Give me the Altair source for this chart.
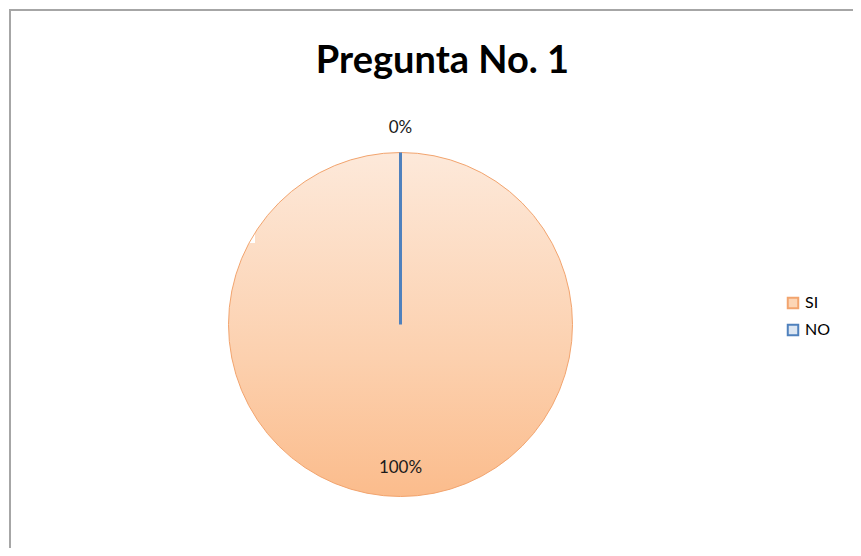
import altair as alt
import pandas as pd

categories = ["SI", "NO"]
values = [1.0, 0.0]
fill_colors = ["#fcd5b5", "#dce6f2"]
stroke_colors = ["#f2a46e", "#4f81bd"]
title_text = "Pregunta No. 1"

df = pd.DataFrame({"cat": categories, "value": values, "order": [0, 1]})

W, H = 845, 540
CX, CY, R = 392.5, 316.5, 172

stroke_scale = alt.Scale(domain=categories, range=stroke_colors)
fill_scale = alt.Scale(domain=categories, range=fill_colors)

base = alt.Chart(df).encode(
    theta=alt.Theta("value:Q", stack=True),
    order=alt.Order("order:Q"),
)

grad = alt.Gradient(
    gradient="linear",
    x1=0, y1=0, x2=0, y2=1,
    stops=[alt.GradientStop(color="#fde9da", offset=0),
           alt.GradientStop(color="#fcd0ae", offset=0.6),
           alt.GradientStop(color="#fbbc8c", offset=1)],
)

disc = base.mark_arc(radius=R, x=CX, y=CY, fill=grad, stroke="#f2a46e",
                     strokeWidth=1).transform_filter("datum.cat == 'SI'")

line = base.mark_arc(radius=R, x=CX, y=CY, fillOpacity=0, strokeWidth=3).encode(
    stroke=alt.Stroke("cat:N", scale=stroke_scale, title=None),
).transform_filter("datum.cat == 'NO'")

legend_layer = alt.Chart(df).mark_square(size=0, opacity=1).encode(
    x=alt.value(-100),
    y=alt.value(-100),
    fill=alt.Fill("cat:N", scale=fill_scale, sort=categories, title=None,
                  legend=alt.Legend(orient="none", legendX=777, legendY=287,
                                    symbolType="square", symbolSize=110,
                                    symbolStrokeWidth=2, labelFontSize=16,
                                    labelFont="Lato", labelColor="#000000",
                                    rowPadding=7, labelOffset=4, padding=0)),
    stroke=alt.Stroke("cat:N", scale=stroke_scale, sort=categories, title=None),
)

lab_no = base.mark_text(radius=197, x=CX, y=CY, fontSize=17, font="Lato",
                        color="#1a1a1a", baseline="middle").encode(
    text=alt.Text("value:Q", format=".0%")
).transform_filter("datum.cat == 'NO'")

lab_si = base.mark_text(radius=143, x=CX, y=CY, fontSize=17, font="Lato",
                        color="#1a1a1a", baseline="middle").encode(
    text=alt.Text("value:Q", format=".0%")
).transform_filter("datum.cat == 'SI'")

title = alt.Chart(pd.DataFrame({"t": [title_text]})).mark_text(
    fontSize=38, font="Lato", fontWeight="bold", color="#000000",
    baseline="alphabetic", align="center"
).encode(text="t:N", x=alt.value(434.5), y=alt.value(65))

border_left = alt.Chart(pd.DataFrame({"a": [0]})).mark_rule(
    color="#a6a6a6", strokeWidth=2
).encode(x=alt.value(2), y=alt.value(1), y2=alt.value(H))

border_top = alt.Chart(pd.DataFrame({"a": [0]})).mark_rule(
    color="#a6a6a6", strokeWidth=2
).encode(x=alt.value(1), x2=alt.value(W), y=alt.value(2))

chart = alt.layer(disc, line, legend_layer, lab_no, lab_si, title, border_left, border_top).properties(
    width=W, height=H, padding=0, autosize=alt.AutoSizeParams(type="none"),
    background="#ffffff"
).configure_view(stroke=None)

chart.save("out.html", embed_options={"renderer": "svg", "actions": False})
